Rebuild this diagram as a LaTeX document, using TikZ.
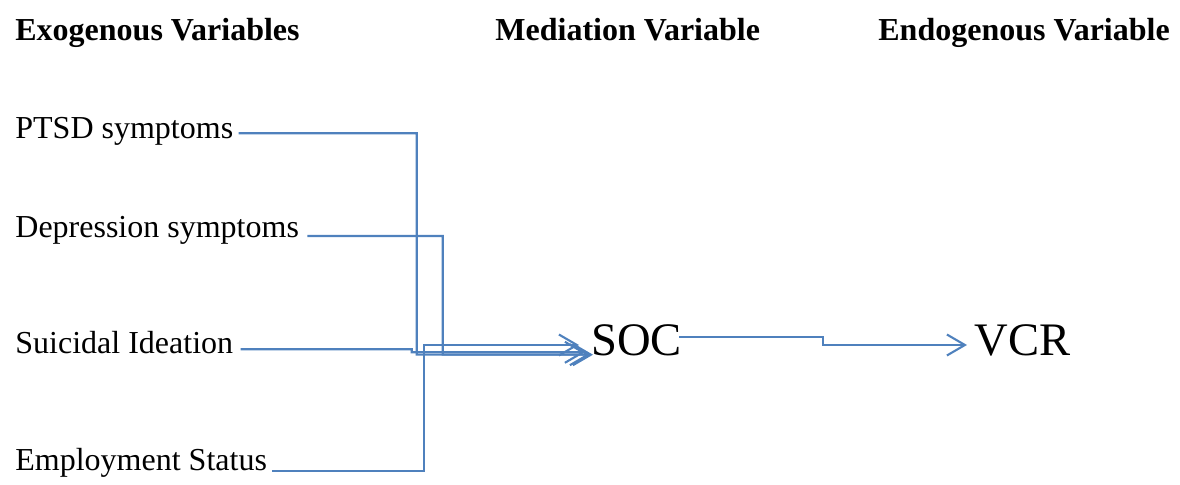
\documentclass[tikz,border=0pt]{standalone}
\usepackage{fontspec}
\setmainfont{Liberation Serif}
\usetikzlibrary{arrows.meta}
\definecolor{linkblue}{HTML}{4F81BD}
\begin{document}
\begin{tikzpicture}[x=0.5pt,y=-0.5pt,
  head/.style={anchor=base west,inner sep=0pt,font=\fontsize{16}{19}\selectfont\bfseries},
  var/.style={anchor=base west,inner sep=0pt,font=\fontsize{16}{19}\selectfont},
  big/.style={anchor=base west,inner sep=0pt,font=\fontsize{23.3}{28}\selectfont},
  link/.style={draw=linkblue,line width=1.05pt,-{Straight Barb[length=9pt,width=10.5pt]}}]
\useasboundingbox (0,0) rectangle (1180,485);
% column headings
\node[head] (hexo) at (15,41) {Exogenous Variables};
\node[head] (hmed) at (495,41) {Mediation Variable};
\node[head] (hend) at (878,41) {Endogenous Variable};
% exogenous variables
\node[var] (ptsd) at (15,139) {PTSD symptoms};
\node[var] (dep) at (15,238) {Depression symptoms};
\node[var] (si) at (15,354) {Suicidal Ideation};
\node[var] (emp) at (15,471) {Employment Status};
% mediator and outcome
\node[big] (soc) at (591,356) {SOC};
\node[big] (vcr) at (974,356) {VCR};
% paths into the mediator
\draw[link] ([shift={(5,-5.7)}]ptsd.base east) -| (416.7,354.7) -- ([shift={(2,-1.3)}]soc.base west);
\draw[link] ([shift={(8,-2)}]dep.base east) -| (442.7,354.7) -- ([shift={(-1,-1.3)}]soc.base west);
\draw[link] ([shift={(7,-4.7)}]si.base east) -- (411.7,349.3) -- (411.7,352.3) -- ([shift={(-6,-3.7)}]soc.base west);
\draw[link] ([shift={(5,-0.3)}]emp.base east) -| (424.3,345) -- ([shift={(-12,-11)}]soc.base west);
% mediator to outcome
\draw[link] ([shift={(-3,-19)}]soc.base east) -- (823,337) -- (823,345) -- ([shift={(-7,-11)}]vcr.base west);
\end{tikzpicture}
\end{document}
